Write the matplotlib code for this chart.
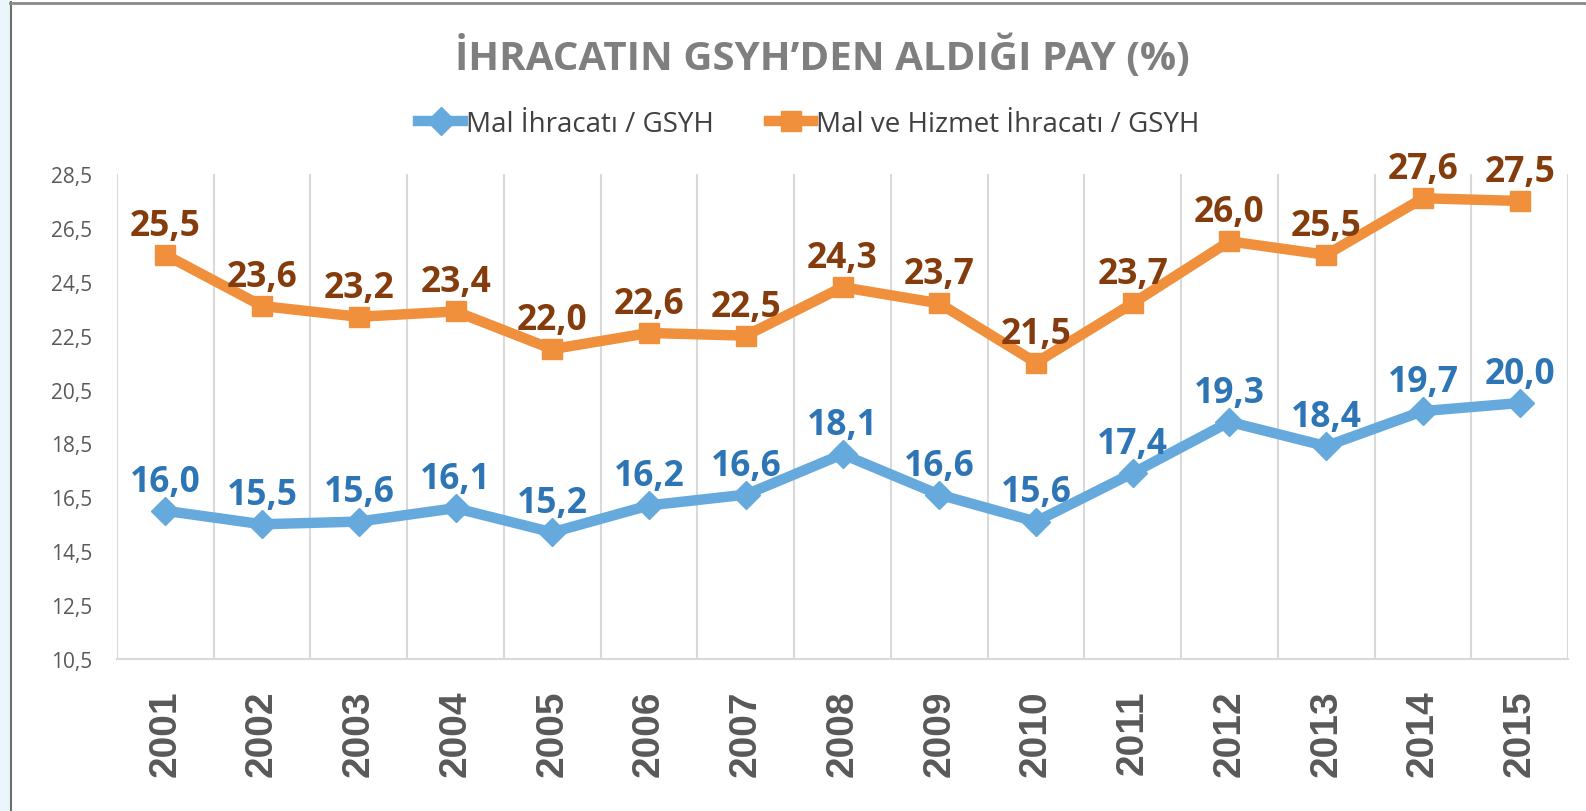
import numpy as np
import matplotlib.pyplot as plt
from matplotlib.lines import Line2D
from matplotlib.patches import Rectangle

years = ["2001", "2002", "2003", "2004", "2005", "2006", "2007", "2008",
         "2009", "2010", "2011", "2012", "2013", "2014", "2015"]
mal = [16.0, 15.5, 15.6, 16.1, 15.2, 16.2, 16.6, 18.1, 16.6, 15.6, 17.4, 19.3, 18.4, 19.7, 20.0]
mal_hizmet = [25.5, 23.6, 23.2, 23.4, 22.0, 22.6, 22.5, 24.3, 23.7, 21.5, 23.7, 26.0, 25.5, 27.6, 27.5]
y_ticks = [10.5, 12.5, 14.5, 16.5, 18.5, 20.5, 22.5, 24.5, 26.5, 28.5]

title = "İHRACATIN GSYH’DEN ALDIĞI PAY (%)"
label_mal = "Mal İhracatı / GSYH"
label_mh = "Mal ve Hizmet İhracatı / GSYH"

W, H = 1586, 812
fig = plt.figure(figsize=(W / 100, H / 100), dpi=100)

# faint decorative strip on the far left + frame lines
fig.patches.append(Rectangle((0, 0), 10 / W, 1, transform=fig.transFigure,
                             facecolor="#eaf6fa", edgecolor="none"))
fig.lines.append(Line2D([10.5 / W, 10.5 / W], [0, 1 - 3 / H], transform=fig.transFigure,
                        color="#6f6f6f", lw=1.5))
fig.lines.append(Line2D([10 / W, 1], [1 - 3.5 / H, 1 - 3.5 / H], transform=fig.transFigure,
                        color="#8a8a8a", lw=2))

ax = fig.add_axes([117 / W, 1 - 660 / H, (1568 - 117) / W, (660 - 175) / H])

x = np.arange(len(years))
c_blue, c_orange = "#66a9dd", "#f08f3c"
ax.plot(x, mal, color=c_blue, lw=7.5, marker="D", ms=14, mec=c_blue, mfc=c_blue,
        solid_joinstyle="round", zorder=3)
ax.plot(x, mal_hizmet, color=c_orange, lw=7.5, marker="s", ms=15, mec=c_orange, mfc=c_orange,
        solid_joinstyle="round", zorder=3)

lab_font = dict(family="Open Sans", fontweight="bold", fontsize=25.5, ha="center", va="bottom")
for xi, v in zip(x, mal):
    ax.annotate(f"{v:.1f}".replace(".", ","), (xi, v), xytext=(0, 8),
                textcoords="offset points", color="#2e75b6", **lab_font)
for xi, v in zip(x, mal_hizmet):
    ax.annotate(f"{v:.1f}".replace(".", ","), (xi, v), xytext=(0, 8),
                textcoords="offset points", color="#843c0c", **lab_font)

ax.set_xlim(-0.5, len(years) - 0.5)
ax.set_ylim(10.5, 28.5)
ax.set_yticks(y_ticks)
ax.set_yticklabels([f"{t:.1f}".replace(".", ",") for t in y_ticks],
                   fontfamily="Open Sans", fontsize=15, color="#595959")
ax.set_xticks(x)
ax.set_xticklabels(years, rotation=90, fontfamily="Liberation Sans", fontweight="bold",
                   fontsize=28, color="#595959")
ax.set_xticks(np.arange(-0.5, len(years)), minor=True)
ax.tick_params(axis="both", which="both", length=0)
ax.tick_params(axis="y", pad=18)
ax.tick_params(axis="x", which="major", pad=22)
ax.grid(axis="x", which="minor", color="#d9d9d9", lw=1.5)
ax.grid(axis="x", which="major", visible=False)
for s in ["top", "right", "left"]:
    ax.spines[s].set_visible(False)
ax.spines["bottom"].set_color("#d9d9d9")
ax.spines["bottom"].set_linewidth(1.5)

fig.text(822 / W, 1 - 57 / H, title, ha="center", va="center", fontsize=29,
         fontweight="bold", family="Open Sans", color="#7f7f7f")

handles = [Line2D([], [], color=c_blue, lw=7.5, marker="D", ms=14),
           Line2D([], [], color=c_orange, lw=7.5, marker="s", ms=15)]
fig.legend(handles, [label_mal, label_mh], loc="center", bbox_to_anchor=(809 / W, 1 - 125 / H),
           ncol=2, frameon=False, handlelength=1.6, handletextpad=0.1, columnspacing=2.0,
           prop=dict(family="Open Sans", size=20), labelcolor="#404040")

fig.savefig("out.png", dpi=100)
